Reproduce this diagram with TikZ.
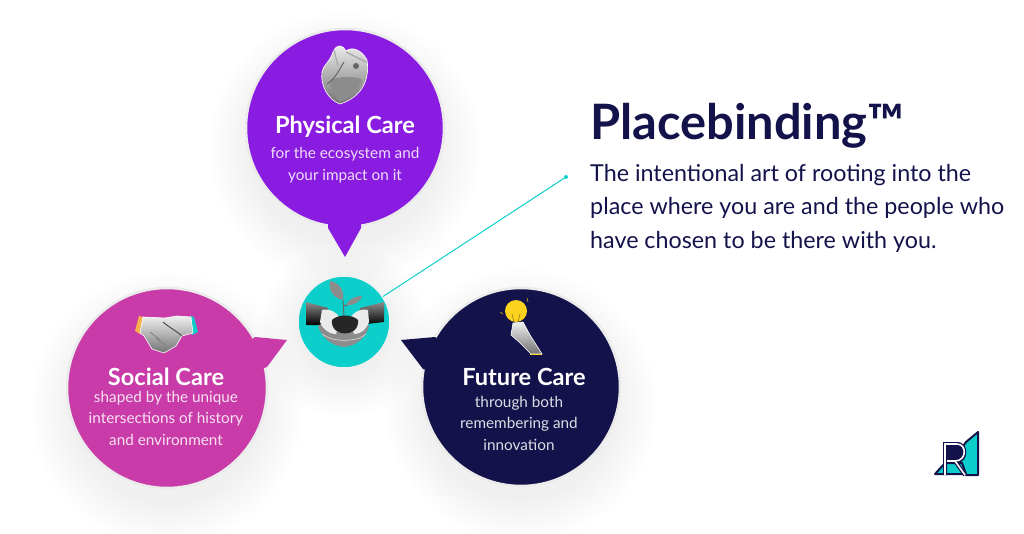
\documentclass[tikz,border=0pt]{standalone}
\usepackage{fontspec}
\setmainfont{Lato}
\definecolor{grape}{HTML}{8A1BE0}
\definecolor{orchid}{HTML}{C93BA8}
\definecolor{midnight}{HTML}{14124A}
\definecolor{lagoon}{HTML}{0CCFCB}
\definecolor{sunny}{HTML}{FBD31E}
\definecolor{peach}{HTML}{F5B14A}
\def\softshadow(#1,#2)(#3){\foreach \grow in {0,3,...,42}{\fill[black,opacity=0.0026] (#1,#2) circle (#3+\grow);}}
\tikzset{
	bubbletitle/.style={text=white,font=\fontsize{23.6}{26}\selectfont\bfseries,inner sep=0pt},
	bubbletext/.style={align=center,font=\fontsize{15.3}{21.5}\selectfont,inner sep=0pt},
	bubble/.style={draw=black!8,line width=2.5pt,fill=#1},
	print/.style={top color=gray!12,bottom color=black!55,draw=white,line width=0.6pt}
}
\begin{document}
\begin{tikzpicture}[x=1pt,y=-1pt]
	\useasboundingbox (0,0) rectangle (1024,534);

	%%%%% shadows %%%%%
	\softshadow(345,148)(95)
	\softshadow(167,408)(95)
	\softshadow(521,405)(95)
	\softshadow(344,332)(44)

	%%%%% bubbles %%%%%
	\draw[bubble=grape] (345,128) circle (99);
	\fill[grape] (328,220) -- (328,228) -- (345,257) -- (361,228) -- (361,220) -- cycle;
	\draw[bubble=orchid] (167,388) circle (100);
	\fill[orchid] (245,345) -- (255,337) -- (287,340) -- (267,367) -- (258,370) -- cycle;
	\draw[bubble=midnight] (521,387) circle (99);
	\fill[midnight] (445,345) -- (435,337) -- (401,340) -- (423,369) -- (432,372) -- cycle;

	%%%%% heart %%%%%
	\draw[print] (333,52) .. controls (337,43) and (343,45) .. (346,51) .. controls (352,46) and (362,50) .. (367,60) .. controls (370,80) and (362,97) .. (340,104) .. controls (328,100) and (320,85) .. (322,72) .. controls (323,65) and (330,62) .. (333,52) -- cycle;
	\fill[black!60] (356,66) circle (3);
	\fill[black!45] (330,80) .. controls (340,76) and (358,76) .. (362,80) .. controls (358,92) and (348,99) .. (340,102) .. controls (334,98) and (331,90) .. (330,80) -- cycle;
	\draw[black!60,line width=1pt] (344,62) .. controls (338,72) and (334,80) .. (327,84);
	\draw[black!35,line width=1.2pt] (334,50) -- (338,66) (346,52) -- (366,62);

	%%%%% handshake %%%%%
	\fill[peach] (139,316) -- (143,317) -- (140,334) -- (135,331) -- cycle;
	\fill[lagoon] (190,316) -- (194,317) -- (198,332) -- (192,335) -- cycle;
	\draw[print] (143,317) -- (165,318) -- (177,316) -- (191,317) -- (193,333) -- (182,336) -- (176,346) -- (164,353) -- (152,349) -- (144,336) -- (140,333) -- cycle;
	\draw[black!70,line width=1pt] (163,322) .. controls (170,328) and (175,330) .. (182,336);
	\draw[black!50,line width=0.8pt] (150,332) -- (160,340) (156,338) -- (166,346);

	%%%%% bulb %%%%%
	\draw[sunny!70!black,line width=0.8pt] (528,302) -- (527,298);
	\draw[sunny!70!black,line width=0.8pt] (503,314) -- (500,312);
	\fill[sunny] (516,311) circle (11);
	\draw[sunny!60!black,line width=0.6pt] (512,314) -- (514,322) (520,314) -- (518,322);
	\draw[print] (513,323) -- (523,322) -- (530,335) -- (542,354) -- (531,354) -- (519,342) -- (511,335) -- cycle;
	\draw[sunny,line width=1pt] (530,354.5) -- (542,354.5);

	%%%%% call text %%%%%
	\node[bubbletitle] (physicaltitle) at (345,126.5) {Physical Care};
	\node[bubbletext,text=white!85!grape] (physicaltext) at (345,165) {for the ecosystem and\\your impact on it};
	\node[bubbletitle] (socialtitle) at (166,377) {Social Care};
	\node[bubbletext,text=white!85!orchid] (socialtext) at (166,418) {shaped by the unique\\intersections of history\\and environment};
	\node[bubbletitle] (futuretitle) at (524,377) {Future Care};
	\node[bubbletext,text=white!85!midnight] (futuretext) at (519,423) {through both\\remembering and\\innovation};

	%%%%% centre %%%%%
	\coordinate (dot) at (566,177);
	\node[circle,fill=lagoon,draw=black!6,line width=1.5pt,minimum size=92pt,inner sep=0pt] (hub) at (344,322) {};
	\draw[lagoon,line width=1pt] (hub) -- (dot);
	\fill[lagoon] (dot) circle (2);
	\draw[black!60,line width=1pt] (344,316) -- (343,300) (344,306) -- (350,304);
	\fill[black!45] (343,300) .. controls (333,298) and (328,290) .. (330,281) .. controls (338,282) and (345,290) .. (343,300) -- cycle;
	\fill[black!45] (346,305) .. controls (350,298) and (356,296) .. (362,296) .. controls (361,301) and (354,306) .. (346,305) -- cycle;
	\shade[top color=black!45,bottom color=black] (306,302) -- (328,308) -- (330,325) -- (306,325) -- cycle;
	\shade[top color=black!45,bottom color=black] (384,302) -- (360,308) -- (358,325) -- (384,322) -- cycle;
	\fill[black!45] (318,326) .. controls (325,318) and (365,318) .. (369,326) .. controls (366,340) and (352,347) .. (344,347) .. controls (336,347) and (322,340) .. (318,326) -- cycle;
	\fill[black!8] (322,310) .. controls (330,308) and (336,312) .. (340,318) -- (336,334) .. controls (328,334) and (322,328) .. (320,322) -- cycle;
	\fill[black!8] (368,310) .. controls (360,308) and (354,312) .. (350,318) -- (354,334) .. controls (362,334) and (367,328) .. (369,322) -- cycle;
	\fill[black!85] (332,320) .. controls (338,314) and (352,314) .. (358,320) .. controls (360,338) and (330,338) .. (332,320) -- cycle;
	\draw[black!20,line width=0.8pt] (322,334) .. controls (332,341) and (338,339) .. (344,341) .. controls (350,339) and (358,341) .. (366,334);

	%%%%% heading %%%%%
	\node[anchor=west,inner sep=0pt,text=midnight,font=\fontsize{48.8}{52}\selectfont\bfseries] (heading) at (590,126) {Placebinding™};
	\node[anchor=north west,inner sep=0pt,align=left,text=midnight,font=\fontsize{23.3}{33.5}\selectfont] (blurb) at (590,164) {The intentional art of rooting into the\\place where you are and the people who\\have chosen to be there with you.};

	%%%%% logo %%%%%
	\draw[midnight,fill=lagoon,line width=2pt,line join=round] (966,442) -- (978,432) -- (978,475) -- (966,475) -- (955,458) -- cycle;
	\draw[midnight,fill=lagoon,line width=2pt,line join=round] (935,474) -- (945,463) -- (962,463) -- (966,474) -- cycle;
	\fill[midnight] (945,442) -- (957,442) .. controls (969,442) and (969,463) .. (957,463) -- (945,463) -- cycle;
	\draw[midnight,line width=4pt] (945,475) -- (945,444) -- (957,444) .. controls (967,444) and (967,461) .. (955,461) -- (947,461) (955,461) -- (965,475);
	\draw[white,line width=1.6pt] (945,475) -- (945,444) -- (957,444) .. controls (967,444) and (967,461) .. (955,461) -- (947,461);
	\draw[white,line width=1.6pt] (955,461) -- (965,475);
\end{tikzpicture}
\end{document}
